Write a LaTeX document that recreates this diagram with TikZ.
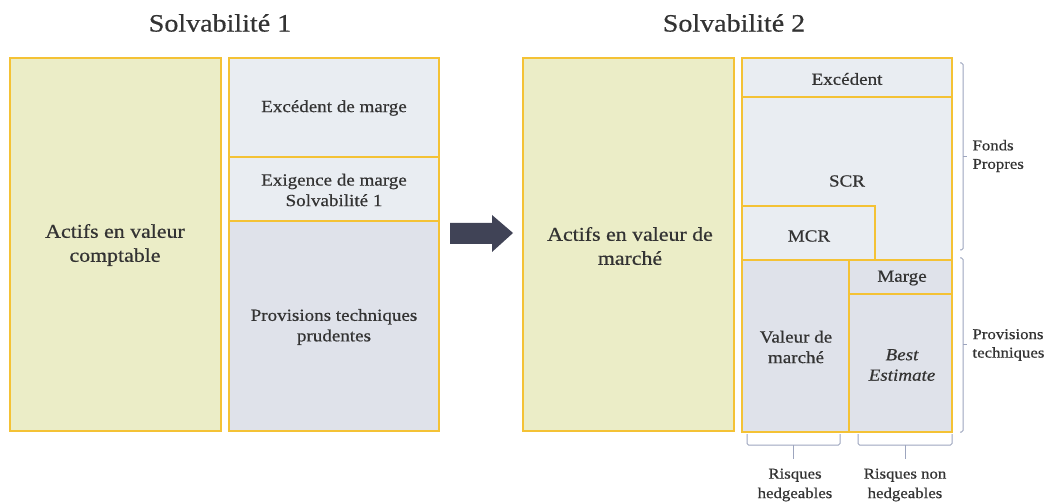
\documentclass[tikz,border=0pt]{standalone}
\usepackage{fontspec}
\setmainfont{Liberation Serif}[FakeStretch=1.12, FakeBold=0.6]
\usetikzlibrary{calc}

\definecolor{gold}{HTML}{F4C235}
\definecolor{assetfill}{HTML}{EBEDC7}
\definecolor{ownfill}{HTML}{E9EDF2}
\definecolor{provfill}{HTML}{DFE2EA}
\definecolor{ink}{HTML}{333333}
\definecolor{arrowfill}{HTML}{404356}
\definecolor{bracecol}{HTML}{9DA5BE}

\tikzset{
  block/.style={draw=gold, line width=2.4pt, inner sep=0pt, outer sep=0pt},
  asset/.style={block, fill=assetfill},
  own/.style={block, fill=ownfill},
  prov/.style={block, fill=provfill},
  bigtext/.style={text=ink, align=center, font=\fontsize{19.5}{24}\selectfont},
  celltext/.style={text=ink, align=center, font=\fontsize{17}{20.5}\selectfont},
  title/.style={text=ink, font=\fontsize{25}{28}\selectfont},
  sidelabel/.style={text=ink, align=left, anchor=west, font=\fontsize{15}{18.5}\selectfont},
  footlabel/.style={text=ink, align=center, font=\fontsize{15}{19.5}\selectfont},
  bracket/.style={draw=bracecol, line width=1pt, rounded corners=1.5pt},
}

% rectangle given by its corners in pixel units (y pointing down)
\newcommand{\boxat}[6]{%
  \node[#1, minimum width={#4-#2}, minimum height={#5-#3}] (#6) at ({(#2+#4)/2},{(#3+#5)/2}) {};}

\begin{document}
\begin{tikzpicture}[x=1pt, y=-1pt]
\useasboundingbox (0,0) rectangle (1049,502);

% ---- Solvabilite 1 ----
\node[title] (t1) at (220,23) {Solvabilité 1};
\boxat{asset}{10}{58}{221}{431}{a1}
\boxat{own}{229}{58}{439}{157}{exc1}
\boxat{own}{229}{157}{439}{221}{exig1}
\boxat{prov}{229}{221}{439}{431}{pt1}
\node[bigtext] (a1txt) at (115,245) {Actifs en valeur\\comptable};
\node[celltext] (exc1txt) at (334,108) {Excédent de marge};
\node[celltext] (exig1txt) at (334,190) {Exigence de marge\\Solvabilité 1};
\node[celltext] (pt1txt) at (334,327) {Provisions techniques\\prudentes};

% ---- transition arrow ----
\coordinate (arrS) at (450,233);
\coordinate (arrE) at (513,233);
\fill[arrowfill] (arrS) ++(0,-10) -- ++(42,0) -- ++(0,-8) -- (arrE) -- ++(-21,19) -- ++(0,-8) -- ++(-42,0) -- cycle;

% ---- Solvabilite 2 ----
\node[title] (t2) at (734,23) {Solvabilité 2};
\boxat{asset}{523}{58}{734}{431}{a2}
\boxat{own}{742}{58}{952}{97}{exc2}
\boxat{own}{742}{97}{952}{260}{scr}
\boxat{own}{742}{206}{875}{260}{mcr}
\boxat{prov}{742}{260}{849}{432}{vm}
\boxat{prov}{849}{260}{952}{294}{marge}
\boxat{prov}{849}{294}{952}{432}{be}
\node[bigtext] (a2txt) at (630,246) {Actifs en valeur de\\marché};
\node[celltext] (exc2txt) at (847,79) {Excédent};
\node[celltext] (scrtxt) at (847,181) {SCR};
\node[celltext] (mcrtxt) at (809,236) {MCR};
\node[celltext] (margetxt) at (902,278) {Marge};
\node[celltext] (vmtxt) at (796,347) {Valeur de\\marché};
\node[celltext, font=\fontsize{17}{20.5}\selectfont\itshape] (betxt) at (902,365) {Best\\Estimate};

% ---- side brackets ----
\coordinate (fpT) at (963,63);
\coordinate (fpB) at (963,250);
\draw[bracket] ($(fpT)+(-3,0)$) -- (fpT) -- (fpB) -- ($(fpB)+(-3,0)$);
\draw[bracket] ($(fpT)!0.5!(fpB)$) -- ++(4,0) coordinate (fpTip);
\node[sidelabel] (fp) at (969,156) {Fonds\\Propres};

\coordinate (ptT) at (963,258);
\coordinate (ptB) at (963,432);
\draw[bracket] ($(ptT)+(-3,0)$) -- (ptT) -- (ptB) -- ($(ptB)+(-3,0)$);
\draw[bracket] ($(ptT)!0.5!(ptB)$) -- ++(4,0) coordinate (ptTip);
\node[sidelabel] (ptl) at (969,345) {Provisions\\techniques};

% ---- bottom brackets ----
\coordinate (hL) at (747,434);
\coordinate (hR) at (840,434);
\draw[bracket] (hL) -- ++(0,11) -| (hR);
\draw[bracket] ($(hL)!0.5!(hR)+(0,11)$) -- ++(0,14) coordinate (hTip);
\node[footlabel] (hlab) at (795,485) {Risques\\hedgeables};

\coordinate (nL) at (858,434);
\coordinate (nR) at (952,434);
\draw[bracket] (nL) -- ++(0,11) -| (nR);
\draw[bracket] ($(nL)!0.5!(nR)+(0,11)$) -- ++(0,14) coordinate (nTip);
\node[footlabel] (nlab) at (905,485) {Risques non\\hedgeables};
\end{tikzpicture}
\end{document}
